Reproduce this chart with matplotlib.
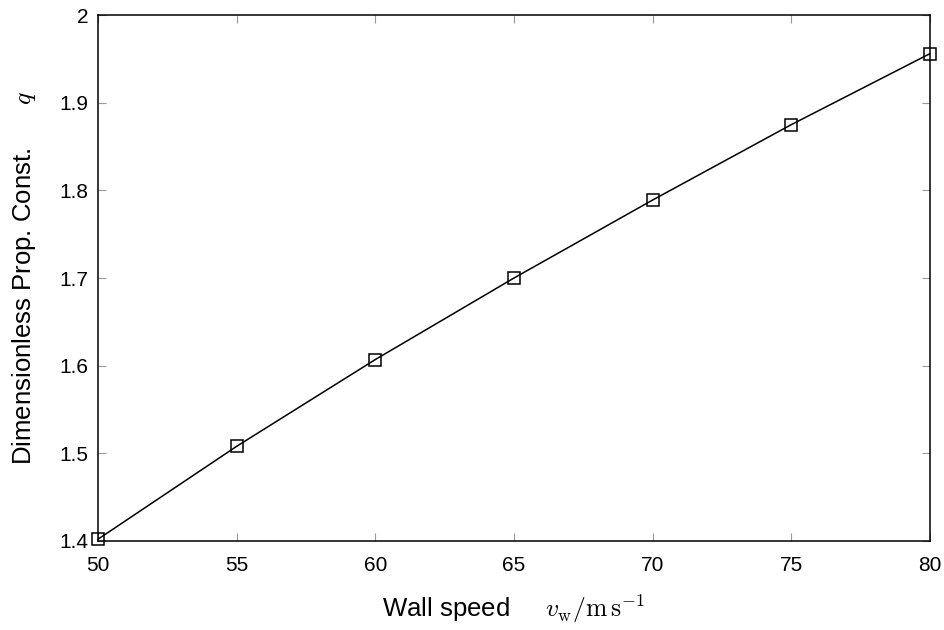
import matplotlib
matplotlib.use("Agg")
import matplotlib.pyplot as plt

wall_speed = [50, 55, 60, 65, 70, 75, 80]
q_values = [1.402, 1.508, 1.607, 1.700, 1.789, 1.875, 1.956]
x_ticks = [50, 55, 60, 65, 70, 75, 80]
y_ticks = [1.4, 1.5, 1.6, 1.7, 1.8, 1.9, 2.0]
y_tick_labels = ["1.4", "1.5", "1.6", "1.7", "1.8", "1.9", "2"]

plt.rcParams['font.family'] = ['Liberation Sans', 'DejaVu Sans']
plt.rcParams['mathtext.fontset'] = 'cm'

fig = plt.figure(figsize=(9.45, 6.3), dpi=100)
ax = fig.add_axes([0.1037, 0.1413, 0.984 - 0.1037, 0.976 - 0.1413])

ax.plot(wall_speed, q_values, color='black', linewidth=1.1, marker='s',
        markersize=8, markerfacecolor='none', markeredgecolor='black',
        markeredgewidth=1.1, clip_on=False, zorder=3)

ax.set_xlim(50, 80)
ax.set_ylim(1.4, 2.0)
ax.set_xticks(x_ticks)
ax.set_xticklabels([str(v) for v in x_ticks])
ax.set_yticks(y_ticks)
ax.set_yticklabels(y_tick_labels)
ax.tick_params(direction='in', length=6, width=0.8, color='#999999',
               labelsize=15, top=True, right=True)
ax.tick_params(axis='x', pad=11)
ax.tick_params(axis='y', pad=7)
for s in ax.spines.values():
    s.set_linewidth(1.1)

ax.set_xlabel("Wall speed     " + r"$v_\mathrm{w}/\mathrm{m\,s^{-1}}$", fontsize=18.5, labelpad=12)
ax.set_ylabel("Dimensionless Prop. Const.      " + r"$q$", fontsize=18.5, labelpad=15.5)

fig.savefig("out.png", dpi=100)
